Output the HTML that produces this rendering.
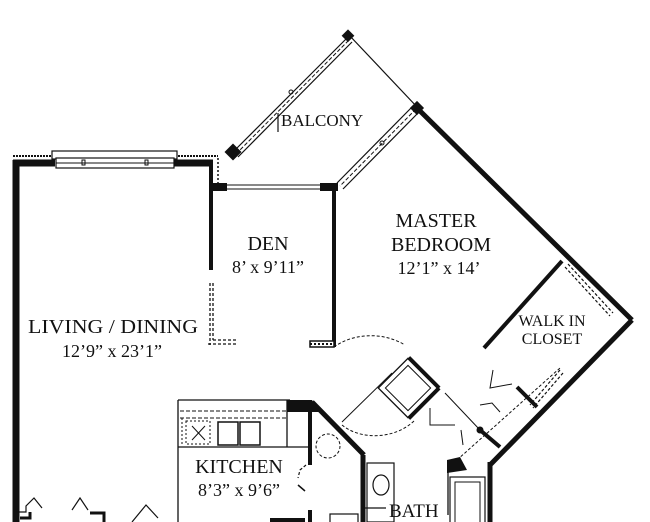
<!DOCTYPE html>
<html><head><style>
html,body{margin:0;padding:0;background:#fff;}
svg{display:block;}
text{font-family:"Liberation Serif",serif;fill:#111;}
</style></head><body>
<svg width="650" height="522" viewBox="0 0 650 522" xmlns="http://www.w3.org/2000/svg">
<g stroke="#111" fill="none" stroke-linecap="butt">
<line x1="16" y1="160" x2="16" y2="522" stroke-width="7"/>
<line x1="13" y1="163" x2="55" y2="163" stroke-width="7"/>
<line x1="173" y1="163" x2="213" y2="163" stroke-width="7"/>
<line x1="13" y1="156" x2="52" y2="156" stroke-width="2" stroke-dasharray="2 1"/>
<line x1="178" y1="156" x2="218" y2="156" stroke-width="2" stroke-dasharray="2 1"/>
<rect x="52" y="151" width="125" height="8" stroke-width="1.2" fill="#fff"/>
<rect x="56" y="158" width="118" height="10" stroke-width="1.2" fill="#fff"/>
<line x1="56" y1="163" x2="174" y2="163" stroke-width="1"/>
<rect x="82" y="160" width="3" height="5" stroke-width="1"/>
<rect x="145" y="160" width="3" height="5" stroke-width="1"/>
<line x1="211" y1="163" x2="211" y2="270" stroke-width="4"/>
<line x1="218" y1="158" x2="218" y2="188" stroke-width="1.5" stroke-dasharray="2 2"/>
<line x1="210" y1="283" x2="210" y2="345" stroke-width="1.3" stroke-dasharray="3 2"/>
<line x1="213" y1="283" x2="213" y2="340" stroke-width="1.3" stroke-dasharray="3 2"/>
<polyline points="208,344 238,344" stroke-width="1.3" stroke-dasharray="3 2"/>
<polyline points="213,340 238,340" stroke-width="1.3" stroke-dasharray="3 2"/>
<rect x="211" y="183" width="16" height="8" fill="#111" stroke="none"/>
<rect x="320" y="183" width="18" height="8" fill="#111" stroke="none"/>
<line x1="227" y1="185" x2="320" y2="185" stroke-width="1"/>
<line x1="227" y1="189" x2="320" y2="189" stroke-width="1"/>
<line x1="334" y1="187" x2="334" y2="347" stroke-width="4"/>
<rect x="310" y="341" width="24" height="6" fill="#fff" stroke-width="1.5"/>
<line x1="310" y1="344" x2="334" y2="344" stroke-width="2" stroke-dasharray="2 2"/>
<rect x="227" y="146" width="12" height="12" fill="#111" stroke="none" transform="rotate(45 233 152)"/>
<line x1="233" y1="152" x2="349" y2="36" stroke-width="1.2"/>
<line x1="238" y1="157" x2="352" y2="42" stroke-width="1.2"/>
<line x1="236" y1="154" x2="350" y2="39" stroke-width="1" stroke-dasharray="4 2"/>
<rect x="344" y="31" width="9" height="9" fill="#111" stroke="none" transform="rotate(45 348 35)"/>
<line x1="349" y1="35" x2="418" y2="108" stroke-width="1.2"/>
<rect x="412" y="103" width="10" height="10" fill="#111" stroke="none" transform="rotate(45 417 108)"/>
<line x1="413" y1="106" x2="337" y2="183" stroke-width="1.2"/>
<line x1="419" y1="112" x2="343" y2="189" stroke-width="1.2"/>
<line x1="416" y1="109" x2="340" y2="186" stroke-width="1" stroke-dasharray="4 2"/>
<circle cx="291" cy="92" r="2" stroke-width="1"/>
<circle cx="382" cy="143" r="2" stroke-width="1"/>
<line x1="278" y1="113" x2="278" y2="132" stroke-width="1.2"/>
<line x1="417" y1="108" x2="632" y2="320" stroke-width="5"/>
<line x1="632" y1="320" x2="490" y2="465" stroke-width="5"/>
<line x1="562" y1="261" x2="484" y2="348" stroke-width="4"/>
<line x1="565" y1="267" x2="610" y2="316" stroke-width="1.2" stroke-dasharray="3 2"/>
<line x1="568" y1="264" x2="613" y2="313" stroke-width="1.2" stroke-dasharray="3 2"/>
<line x1="560" y1="370" x2="530" y2="405" stroke-width="1.2" stroke-dasharray="3 2"/>
<line x1="563" y1="373" x2="533" y2="408" stroke-width="1.2" stroke-dasharray="3 2"/>
<line x1="517" y1="387" x2="537" y2="407" stroke-width="4"/>
<line x1="480" y1="430" x2="500" y2="447" stroke-width="4"/>
<line x1="445" y1="393" x2="480" y2="430" stroke-width="1"/>
<line x1="457" y1="460" x2="560" y2="368" stroke-width="1" stroke-dasharray="3 2"/>
<circle cx="480" cy="430" r="3" fill="#111"/>
<path d="M447,460 L460,457 L467,470 L447,473 Z" fill="#111" stroke="none"/>
<line x1="490" y1="462" x2="490" y2="522" stroke-width="5"/>
<rect x="450" y="477" width="35" height="50" stroke-width="1.2"/>
<rect x="455" y="482" width="25" height="45" stroke-width="1"/>
<line x1="448" y1="470" x2="448" y2="515" stroke-width="1.3"/>
<g transform="rotate(45 408 388)">
<rect x="387" y="367" width="42" height="42" stroke-width="1.3" fill="#fff"/>
<rect x="392" y="372" width="32" height="32" stroke-width="1"/>
<line x1="387" y1="366" x2="430" y2="366" stroke-width="4"/>
<line x1="430" y1="366" x2="430" y2="409" stroke-width="4"/>
</g>
<path d="M334,347 C350,335 380,330 405,345" stroke-width="1" stroke-dasharray="3 2"/>
<path d="M342,425 C360,440 395,440 415,420" stroke-width="1" stroke-dasharray="3 2"/>
<line x1="342" y1="422" x2="392" y2="373" stroke-width="1"/>
<path d="M430,408 L430,425 L455,425" stroke-width="1"/>
<path d="M493,370 L490,388 L512,384" stroke-width="1"/>
<path d="M480,405 L492,403 L500,412" stroke-width="1"/>
<path d="M461,430 L463,445" stroke-width="1"/>
<line x1="178" y1="400" x2="178" y2="522" stroke-width="1.3"/>
<line x1="178" y1="400" x2="290" y2="400" stroke-width="1.3"/>
<line x1="178" y1="447" x2="310" y2="447" stroke-width="1.3"/>
<line x1="287" y1="400" x2="287" y2="447" stroke-width="1.3"/>
<line x1="180" y1="411" x2="286" y2="411" stroke-width="1" stroke-dasharray="4 2"/>
<line x1="180" y1="418" x2="286" y2="418" stroke-width="1" stroke-dasharray="4 2"/>
<line x1="182" y1="418" x2="182" y2="446" stroke-width="1" stroke-dasharray="2 2"/>
<rect x="186" y="421" width="24" height="23" stroke-width="1" stroke-dasharray="2 2"/>
<line x1="192" y1="426" x2="205" y2="440" stroke-width="1"/>
<line x1="205" y1="426" x2="192" y2="440" stroke-width="1"/>
<rect x="218" y="422" width="20" height="23" stroke-width="1.5"/>
<rect x="240" y="422" width="20" height="23" stroke-width="1.5"/>
<path d="M287,400 L312,400 L320,412 L287,412 Z" fill="#111" stroke="none"/>
<line x1="310" y1="410" x2="310" y2="465" stroke-width="4"/>
<line x1="312" y1="402" x2="364" y2="455" stroke-width="5"/>
<line x1="363" y1="455" x2="363" y2="522" stroke-width="5"/>
<line x1="310" y1="510" x2="310" y2="522" stroke-width="4"/>
<circle cx="328" cy="446" r="12" stroke-width="1" stroke-dasharray="3 2"/>
<path d="M306,465 L300,470 L298,478" stroke-width="1.2" stroke-dasharray="3 2"/>
<line x1="298" y1="485" x2="305" y2="491" stroke-width="1.5"/>
<rect x="367" y="463" width="27" height="59" stroke-width="1.2"/>
<ellipse cx="381" cy="485" rx="8" ry="10" stroke-width="1.2"/>
<line x1="363" y1="508" x2="386" y2="508" stroke-width="1.2"/>
<rect x="330" y="514" width="28" height="10" stroke-width="1.2"/>
<line x1="270" y1="520" x2="305" y2="520" stroke-width="4"/>
<polyline points="16,512 26,512 26,506 34,498 42,508" stroke-width="1.2"/>
<polyline points="20,518 30,518 30,512" stroke-width="3"/>
<polyline points="72,510 80,498 88,510" stroke-width="1.2"/>
<polyline points="90,513 104,513 104,522" stroke-width="3"/>
<polyline points="132,522 146,505 158,518" stroke-width="1.2"/>
</g>
<g font-size="20">
<text x="281" y="126" font-size="17">BALCONY</text>
<text x="268" y="250" text-anchor="middle">DEN</text>
<text x="268" y="273" text-anchor="middle" font-size="18">8’ x 9’11”</text>
<text x="436" y="227" text-anchor="middle">MASTER</text>
<text x="441" y="251" text-anchor="middle">BEDROOM</text>
<text x="439" y="274" text-anchor="middle" font-size="18">12’1” x 14’</text>
<text x="113" y="333" text-anchor="middle" textLength="170" lengthAdjust="spacingAndGlyphs">LIVING / DINING</text>
<text x="112" y="357" text-anchor="middle" font-size="18">12’9” x 23’1”</text>
<text x="552" y="326" text-anchor="middle" font-size="16">WALK IN</text>
<text x="552" y="344" text-anchor="middle" font-size="16">CLOSET</text>
<text x="239" y="473" text-anchor="middle">KITCHEN</text>
<text x="239" y="496" text-anchor="middle" font-size="18">8’3” x 9’6”</text>
<text x="389" y="517" font-size="19">BATH</text>
</g>
</svg>
</body></html>
